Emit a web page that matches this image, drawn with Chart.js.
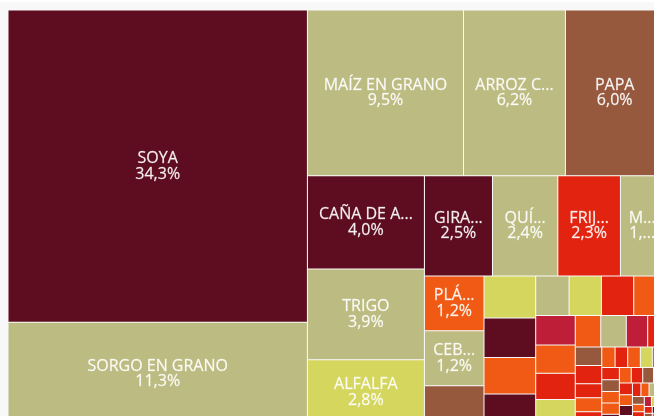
<!DOCTYPE html>
<html>
<head>
<meta charset="utf-8">
<script src="https://cdn.jsdelivr.net/npm/chart.js@4.4.1/dist/chart.umd.min.js"></script>
<style>
  html, body { margin: 0; padding: 0; background: #f8f8f8; overflow: hidden; width: 654px; height: 416px; }
  #topstrip { position: absolute; left: 0; top: 0; width: 654px; height: 2px; background: #ffffff; }
  #wrap { position: absolute; left: 8px; top: 10px; width: 656px; height: 415px; }
</style>
</head>
<body>
<div id="topstrip"></div>
<div id="wrap"><canvas id="c" width="656" height="415"></canvas></div>
<script>
// ---- Data (shares in %) ----
const categories = [
  'SOYA', 'SORGO EN GRANO', 'MAÍZ EN GRANO', 'ARROZ C...', 'PAPA',
  'CAÑA DE A...', 'TRIGO', 'ALFALFA', 'GIRA...', 'QUÍ...', 'FRIJ...', 'M...',
  'PLÁ...', 'CEB...'
];
const namedValues = [34.3, 11.3, 9.5, 6.2, 6.0, 4.0, 3.9, 2.8, 2.5, 2.4, 2.3, 1.6, 1.2, 1.2];
// small unlabeled cells (estimated from their areas)
const smallValues = [
  0.86, 0.80, 0.75, 0.69, 0.59,
  0.485, 0.47, 0.47, 0.44,
  0.427, 0.412, 0.38, 0.37,
  0.294, 0.294, 0.247, 0.188,
  0.18, 0.178, 0.137, 0.135, 0.13,
  0.10, 0.095, 0.095, 0.09,
  0.088, 0.08, 0.076, 0.074,
  0.072, 0.07, 0.068, 0.066, 0.062, 0.06, 0.056, 0.052, 0.048, 0.045, 0.042, 0.04,
  0.038, 0.036, 0.034, 0.032, 0.03, 0.028, 0.026, 0.024, 0.022, 0.02, 0.018, 0.016,
  0.015, 0.014, 0.012, 0.01, 0.01, 0.008, 0.006, 0.005
];
// palette keys per cell: M maroon, K khaki, B brown, R red, O orange, Y yellow-green, C crimson
const namedColorKeys = ['M','K','K','K','B','M','K','Y','M','K','R','K','O','K'];
const smallColorKeys = [
  'B','Y','M','O','M',
  'K','Y','R','O',
  'C','O','R','Y',
  'O','K','C','R',
  'B','R','R','O','R',
  'O','R','O','Y',
  'O','R','B','O',
  'O','M','O','R','B','O','R','O','M','Y','R','O',
  'K','R','B','O','R','O','C','Y','O','R','B','O',
  'M','R','O','Y','R','O','B','R'
];
const palette = {
  M: '#5E0D20', K: '#BCBC82', B: '#96593E', R: '#E2230F',
  O: '#F05A14', Y: '#D4D65E', C: '#BE1E38'
};

const values = namedValues.concat(smallValues);
const labels = categories.concat(smallValues.map(() => ''));
const colors = namedColorKeys.concat(smallColorKeys).map(k => palette[k]);

// ---- squarified layout ----
const RATIO = 1.54;
function squarify(vals, x0, y0, x1, y1, ratio) {
  const n = vals.length, out = new Array(n);
  let value = vals.reduce((a, b) => a + b, 0);
  let i0 = 0, i1 = 0;
  while (i0 < n) {
    const dx = x1 - x0, dy = y1 - y0;
    let sumValue;
    do { sumValue = vals[i1++]; } while (!sumValue && i1 < n);
    let minValue = sumValue, maxValue = sumValue;
    const alpha = Math.max(dy / dx, dx / dy) / (value * ratio);
    let beta = sumValue * sumValue * alpha;
    let minRatio = Math.max(maxValue / beta, beta / minValue);
    for (; i1 < n; ++i1) {
      const nv = vals[i1];
      sumValue += nv;
      if (nv < minValue) minValue = nv;
      if (nv > maxValue) maxValue = nv;
      beta = sumValue * sumValue * alpha;
      const newRatio = Math.max(maxValue / beta, beta / minValue);
      if (newRatio > minRatio) { sumValue -= nv; break; }
      minRatio = newRatio;
    }
    if (dx < dy) {
      const ny = y0 + dy * sumValue / value;
      let x = x0; const k = (x1 - x0) / sumValue;
      for (let i = i0; i < i1; i++) { const w = vals[i] * k; out[i] = {x0: x, y0: y0, x1: x + w, y1: ny}; x += w; }
      y0 = ny;
    } else {
      const nx = x0 + dx * sumValue / value;
      let y = y0; const k = (y1 - y0) / sumValue;
      for (let i = i0; i < i1; i++) { const h = vals[i] * k; out[i] = {x0: x0, y0: y, x1: nx, y1: y + h}; y += h; }
      x0 = nx;
    }
    value -= sumValue; i0 = i1;
  }
  return out;
}

function fitText(ctx, text, maxW) {
  if (ctx.measureText(text).width <= maxW) return text;
  let s = text.replace(/\.\.\.$/, '');
  while (s.length > 0 && ctx.measureText(s + '...').width > maxW) s = s.slice(0, -1);
  return s.length ? s + '...' : '';
}

class TreemapLite extends Chart.DatasetController {
  update(mode) {
    const meta = this._cachedMeta;
    this.updateElements(meta.data, 0, meta.data.length, mode);
  }
  updateElements(rects, start, count, mode) {
    const meta = this._cachedMeta;
    const xs = meta.xScale, ys = meta.yScale;
    const vals = this.getDataset().data.map(Number);
    const aspect = (xs.right - xs.left) / (ys.bottom - ys.top);
    const cells = squarify(vals, 0, 0, aspect, 1, RATIO);
    this._cells = this._cells || [];
    for (let i = start; i < start + count; i++) {
      const c = cells[i];
      const left = xs.getPixelForValue(c.x0 / aspect);
      const right = xs.getPixelForValue(c.x1 / aspect);
      const top = ys.getPixelForValue(c.y0);
      const bottom = ys.getPixelForValue(c.y1);
      const options = this.resolveDataElementOptions(i, mode);
      Object.assign(rects[i], {
        x: (left + right) / 2, y: top, base: bottom,
        width: right - left, height: bottom - top,
        horizontal: false, inflateAmount: 0, enableBorderRadius: false,
        borderSkipped: {top: false, left: false, bottom: false, right: false},
        options
      });
      this._cells[i] = {left, right, top, bottom};
    }
  }
  draw() {
    super.draw();
    const ctx = this.chart.ctx;
    const names = this.chart.data.labels;
    const data = this.getDataset().data;
    ctx.save();
    ctx.font = '16px "Open Sans"';
    ctx.fillStyle = 'rgba(255,255,255,0.93)';
    ctx.strokeStyle = 'rgba(255,255,255,0.5)';
    ctx.lineWidth = 0.35;
    ctx.textAlign = 'center';
    ctx.textBaseline = 'alphabetic';
    for (let i = 0; i < data.length; i++) {
      const c = this._cells[i];
      if (!c || !names[i]) continue;
      const w = c.right - c.left, h = c.bottom - c.top;
      if (w < 36 || h < 44) continue;
      const cx = (c.left + c.right) / 2, cy = (c.top + c.bottom) / 2;
      const pct = Number(data[i]).toFixed(1).replace('.', ',') + '%';
      const t1 = fitText(ctx, names[i], w - 14), t2 = fitText(ctx, pct, w - 14);
      ctx.fillText(t1, cx, cy - 3); ctx.strokeText(t1, cx, cy - 3);
      ctx.fillText(t2, cx, cy + 12.5); ctx.strokeText(t2, cx, cy + 12.5);
    }
    ctx.restore();
  }
}
TreemapLite.id = 'treemapLite';
TreemapLite.defaults = { datasetElementType: false, dataElementType: 'bar' };
Chart.register(TreemapLite);

new Chart(document.getElementById('c'), {
  type: 'treemapLite',
  data: {
    labels: labels,
    datasets: [{
      data: values,
      backgroundColor: colors,
      borderColor: 'rgba(255,255,255,0.35)',
      borderWidth: 0.5
    }]
  },
  options: {
    responsive: false,
    animation: false,
    events: [],
    layout: { padding: 0 },
    plugins: { legend: { display: false }, tooltip: { enabled: false } },
    scales: {
      x: { type: 'linear', min: 0, max: 1, display: false },
      y: { type: 'linear', min: 0, max: 1, reverse: true, display: false }
    }
  }
});
</script>
</body>
</html>
